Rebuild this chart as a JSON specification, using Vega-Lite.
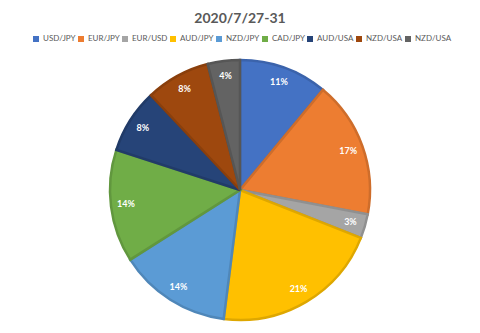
{
  "$schema": "https://vega.github.io/schema/vega-lite/v6.json",
  "width": 480,
  "height": 286,
  "autosize": {"type": "none"},
  "padding": {"top": 47, "left": 0, "right": 0, "bottom": 0},
  "background": "#ffffff",
  "title": {
    "text": "2020/7/27-31",
    "font": "Lato",
    "fontSize": 14,
    "fontWeight": "bold",
    "color": "#595959",
    "offset": 9
  },
  "data": {
    "values": [
      {"pair": "USD/JPY", "pct": 11, "ord": 1},
      {"pair": "EUR/JPY", "pct": 17, "ord": 2},
      {"pair": "EUR/USD", "pct": 3, "ord": 3},
      {"pair": "AUD/JPY", "pct": 21, "ord": 4},
      {"pair": "NZD/JPY", "pct": 14, "ord": 5},
      {"pair": "CAD/JPY", "pct": 14, "ord": 6},
      {"pair": "AUD/USA", "pct": 8, "ord": 7},
      {"pair": "NZD/USA", "pct": 8, "ord": 8},
      {"pair": "NZD/USA ", "pct": 4, "ord": 9}
    ]
  },
  "encoding": {
    "theta": {"field": "pct", "type": "quantitative", "stack": true},
    "order": {"field": "ord", "type": "quantitative"}
  },
  "layer": [
    {
      "mark": {"type": "arc", "outerRadius": 130, "strokeWidth": 2.5, "strokeJoin": "miter"},
      "encoding": {
        "color": {
          "field": "pair",
          "type": "nominal",
          "sort": null,
          "scale": {
            "domain": ["USD/JPY", "EUR/JPY", "EUR/USD", "AUD/JPY", "NZD/JPY", "CAD/JPY", "AUD/USA", "NZD/USA", "NZD/USA "],
            "range": ["#4472C4", "#ED7D31", "#A5A5A5", "#FFC000", "#5B9BD5", "#70AD47", "#264478", "#9E480E", "#636363"]
          },
          "legend": {
            "orient": "none",
            "legendX": 32,
            "legendY": -12,
            "direction": "horizontal",
            "columns": 9,
            "title": null,
            "symbolType": "square",
            "symbolSize": 36,
            "symbolStrokeWidth": 0,
            "labelFont": "Lato",
            "labelFontSize": 8,
            "labelColor": "#595959",
            "columnPadding": 1,
            "symbolOffset": 0,
            "labelOffset": 3,
            "padding": 0
          }
        },
        "stroke": {
          "field": "pair",
          "type": "nominal",
          "sort": null,
          "scale": {
            "domain": ["USD/JPY", "EUR/JPY", "EUR/USD", "AUD/JPY", "NZD/JPY", "CAD/JPY", "AUD/USA", "NZD/USA", "NZD/USA "],
            "range": ["#3B63AB", "#CE6D2B", "#909090", "#DEA700", "#4F87B9", "#61973E", "#213B68", "#8A3F0C", "#565656"]
          },
          "legend": null
        }
      }
    },
    {
      "mark": {"type": "text", "radius": 115, "font": "Lato", "fontSize": 9, "fontWeight": "bold", "color": "#ffffff"},
      "encoding": {
        "text": {"field": "label", "type": "nominal"}
      },
      "transform": [{"calculate": "datum.pct + '%'", "as": "label"}]
    }
  ]
}
